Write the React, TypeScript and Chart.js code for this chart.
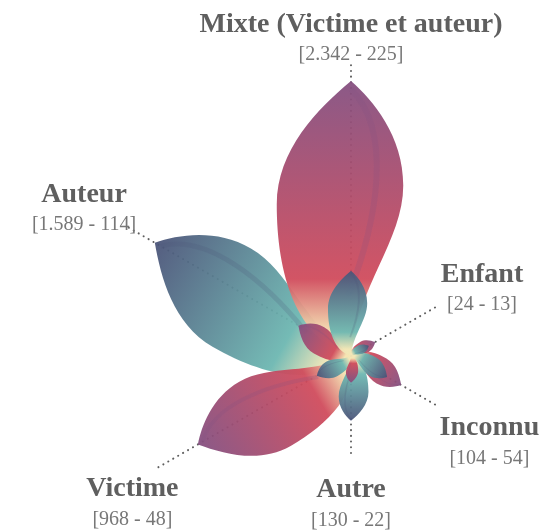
import React, { useEffect, useRef } from 'react';
import { Chart, RadarController, LineElement, PointElement, RadialLinearScale } from 'chart.js';

// ---------- data ----------
const categories = ['Mixte (Victime et auteur)', 'Enfant', 'Inconnu', 'Autre', 'Victime', 'Auteur'];
const totalCases = [2342, 24, 104, 130, 968, 1589];
const secondCases = [225, 13, 54, 22, 48, 114];

// ---------- styles / layout ----------
const bigTone = ['rose', 'rose', 'rose', 'teal', 'rose', 'teal'];
const smallTone = ['teal', 'teal', 'teal', 'rose', 'teal', 'rose'];
const bigDrawOrder = [5, 0, 4, 2, 3, 1];

const CENTER_X = 351;
const CENTER_Y = 356;
const MAX_RADIUS = 275;

const TONES: Record<string, { base: string; mid: string; tip: string }> = {
  rose: { base: '#f5e4b2', mid: '#d04a5b', tip: '#844f80' },
  teal: { base: '#f1e6b6', mid: '#6cb7b1', tip: '#4a5378' },
};

const fmt = (n: number) => String(n).replace(/\B(?=(\d{3})+(?!\d))/g, '.');

class SqrtRadialScale extends RadialLinearScale {
  static id = 'sqrtRadial';
  static defaults = RadialLinearScale.defaults;
  fit() {
    this.xCenter = CENTER_X;
    this.yCenter = CENTER_Y;
    this.drawingArea = MAX_RADIUS;
  }
  getDistanceFromCenterForValue(value: number) {
    if (value === null || value === undefined || isNaN(value)) return NaN;
    const span = Math.sqrt(Math.max(this.max - this.min, 1e-9));
    return (Math.sqrt(Math.max(0, value - this.min)) / span) * this.drawingArea;
  }
}

Chart.register(RadarController, LineElement, PointElement, RadialLinearScale, SqrtRadialScale);

function drawPetal(ctx: CanvasRenderingContext2D, cx: number, cy: number, tx: number, ty: number, toneName: string) {
  const tone = TONES[toneName];
  const dx = tx - cx;
  const dy = ty - cy;
  const L = Math.hypot(dx, dy);
  if (L < 1) return;
  const d = { x: dx / L, y: dy / L };
  const p = { x: -d.y, y: d.x };
  const P = (u: number, v: number): [number, number] => [cx + L * (u * d.x + v * p.x), cy + L * (u * d.y + v * p.y)];
  ctx.save();
  ctx.beginPath();
  ctx.moveTo(cx, cy);
  // clockwise side (narrower)
  ctx.bezierCurveTo(...P(0.25, 0.02), ...P(0.42, 0.19), ...P(0.62, 0.19));
  ctx.bezierCurveTo(...P(0.8, 0.19), ...P(0.93, 0.08), ...P(1, 0));
  // counter-clockwise side (wider)
  ctx.bezierCurveTo(...P(0.9, -0.12), ...P(0.75, -0.27), ...P(0.55, -0.27));
  ctx.bezierCurveTo(...P(0.3, -0.27), ...P(0.06, -0.2), ...P(0, 0));
  ctx.closePath();
  const g = ctx.createLinearGradient(cx, cy, tx, ty);
  g.addColorStop(0, tone.base);
  g.addColorStop(0.08, tone.base);
  g.addColorStop(0.28, tone.mid);
  g.addColorStop(1, tone.tip);
  ctx.fillStyle = g;
  ctx.globalAlpha = 0.94;
  ctx.fill();
  // vein
  ctx.beginPath();
  ctx.moveTo(...P(0.97, 0));
  ctx.bezierCurveTo(...P(0.82, 0.15), ...P(0.5, 0.1), ...P(0.22, -0.01));
  ctx.strokeStyle = tone.tip;
  ctx.globalAlpha = 0.2;
  ctx.lineWidth = Math.max(1, L * 0.022);
  ctx.stroke();
  ctx.restore();
}

function labelRadius(r: number) {
  return r >= 120 ? 0.74 * r + 91.5 : 100;
}

const petalPlugin = {
  id: 'petals',
  beforeDatasetsDraw(chart: any) {
    const scale = chart.scales.r;
    const ctx: CanvasRenderingContext2D = chart.ctx;
    ctx.save();
    ctx.strokeStyle = '#5e5e5e';
    ctx.lineWidth = 2;
    ctx.lineCap = 'round';
    ctx.setLineDash([0.1, 5.6]);
    categories.forEach((_, i) => {
      const r = scale.getDistanceFromCenterForValue(totalCases[i]);
      const e = scale.getPointPosition(i, labelRadius(r));
      ctx.beginPath();
      ctx.moveTo(scale.xCenter, scale.yCenter);
      ctx.lineTo(e.x, e.y);
      ctx.stroke();
    });
    ctx.restore();
  },
  afterDatasetsDraw(chart: any) {
    const scale = chart.scales.r;
    const ctx: CanvasRenderingContext2D = chart.ctx;
    const cx = scale.xCenter;
    const cy = scale.yCenter;
    const big = chart.getDatasetMeta(0).data;
    const small = chart.getDatasetMeta(1).data;
    bigDrawOrder.forEach((i) => drawPetal(ctx, cx, cy, big[i].x, big[i].y, bigTone[i]));
    bigDrawOrder.forEach((i) => drawPetal(ctx, cx, cy, small[i].x, small[i].y, smallTone[i]));

    // labels
    ctx.save();
    ctx.textAlign = 'center';
    ctx.textBaseline = 'alphabetic';
    categories.forEach((name, i) => {
      const r = scale.getDistanceFromCenterForValue(totalCases[i]);
      const e = scale.getPointPosition(i, labelRadius(r));
      const theta = scale.getIndexAngle(i);
      const s = Math.sin(theta);
      const c = Math.cos(theta);
      const bracket = '[' + fmt(totalCases[i]) + ' - ' + fmt(secondCases[i]) + ']';
      ctx.font = 'bold 28px "Liberation Serif"';
      const tw = ctx.measureText(name).width;
      ctx.font = '20px "Liberation Serif"';
      const bw = ctx.measureText(bracket).width;
      const w = Math.max(tw, bw);
      const k = s > 0.05 ? 10 : s < -0.05 ? (c > 0 ? -3 : -16) : 0;
      const bx = e.x + (Math.abs(s) > 0.05 ? s * (w / 2 + k) : 0);
      let titleBase: number;
      let bracketBase: number;
      if (c > 0.05) {
        bracketBase = e.y + 4 - 10 * (c - 0.5);
        titleBase = bracketBase - 28;
      } else {
        titleBase = e.y + 29 + (Math.abs(c) - 0.5) * 24;
        bracketBase = titleBase + 29;
      }
      ctx.font = 'bold 28px "Liberation Serif"';
      ctx.fillStyle = '#5f5f5f';
      ctx.fillText(name, bx, titleBase);
      ctx.font = '20px "Liberation Serif"';
      ctx.fillStyle = '#777777';
      ctx.fillText(bracket, bx, bracketBase);
    });
    ctx.restore();
  },
};

export default function App() {
  const ref = useRef<HTMLCanvasElement | null>(null);
  useEffect(() => {
    if (!ref.current) return;
    const chart = new Chart(ref.current, {
      type: 'radar',
      data: {
        labels: categories,
        datasets: [
          { label: 'total', data: totalCases, showLine: false, pointRadius: 0, borderWidth: 0, backgroundColor: 'rgba(0,0,0,0)' },
          { label: 'second', data: secondCases, showLine: false, pointRadius: 0, borderWidth: 0, backgroundColor: 'rgba(0,0,0,0)' },
        ],
      },
      options: {
        animation: false,
        responsive: false,
        devicePixelRatio: 1,
        events: [],
        layout: { padding: 0 },
        plugins: { legend: { display: false }, tooltip: { enabled: false } } as any,
        scales: {
          r: {
            type: 'sqrtRadial' as any,
            min: 0,
            max: Math.max(...totalCases),
            display: false,
            grid: { display: false },
            angleLines: { display: false },
            ticks: { display: false },
            pointLabels: { display: false },
          } as any,
        },
      },
      plugins: [petalPlugin],
    });
    return () => chart.destroy();
  }, []);
  return (
    <div style={{ position: 'fixed', left: 0, top: 0, width: 560, height: 531, background: '#fff' }}>
      <canvas ref={ref} width={560} height={531} />
    </div>
  );
}
